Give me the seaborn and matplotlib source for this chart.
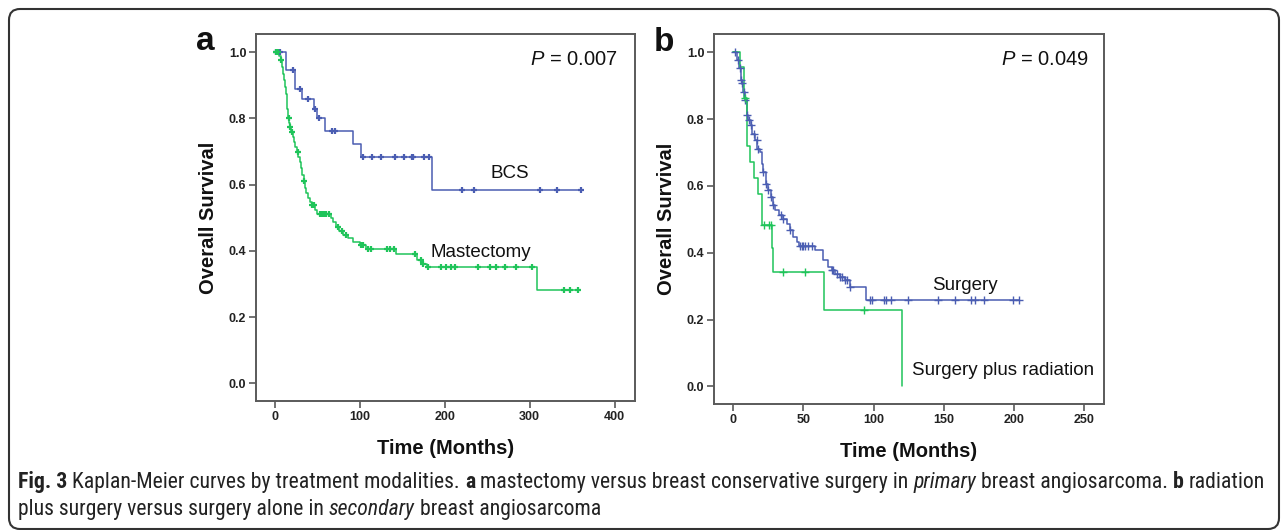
import numpy as np
import pandas as pd
import matplotlib
matplotlib.use("Agg")
import matplotlib.pyplot as plt
import seaborn as sns
from matplotlib.patches import FancyBboxPatch
from matplotlib import font_manager

# ---------------- data ----------------
# Panel a: primary breast angiosarcoma
bcs_t = [0, 13, 23.5, 32, 46, 50, 59, 92, 102, 185.5]
bcs_s = [1.0, 0.946, 0.89, 0.86, 0.83, 0.80, 0.763, 0.722, 0.684, 0.583]
bcs_c = [2, 6, 21.5, 29.5, 39, 48, 52, 67, 70.5, 104, 114, 125, 141, 152, 161, 163,
         176, 181, 221, 235, 312.5, 332.5, 360]

mast_t = [0, 5, 7, 9, 10, 11, 12, 13, 14, 15, 16, 17, 18, 19.5, 21, 22.5, 24, 26, 28,
          29.5, 31, 32.5, 34, 35.5, 37, 39, 41, 44, 47, 50, 66, 69, 72, 76, 80, 86, 92,
          100, 108, 143, 168, 175, 179, 308.6]
mast_s = [1.0, 0.99, 0.975, 0.955, 0.935, 0.915, 0.895, 0.875, 0.855, 0.83, 0.80, 0.785,
          0.775, 0.76, 0.745, 0.73, 0.715, 0.70, 0.685, 0.67, 0.65, 0.63, 0.61, 0.59,
          0.575, 0.56, 0.548, 0.538, 0.524, 0.512, 0.50, 0.487, 0.473, 0.46, 0.448,
          0.438, 0.428, 0.418, 0.405, 0.39, 0.372, 0.362, 0.352, 0.282]
mast_c = [2, 4, 8, 16.5, 18, 20, 27, 35, 44, 46, 53, 56, 58, 60, 64, 74, 79, 84, 102,
          104, 110, 113, 132, 136, 140, 165, 172, 175, 180, 196, 202, 208, 212, 239,
          253, 260, 271, 283.5, 303, 341, 347, 357]

# Panel b: secondary breast angiosarcoma
surg_t = [0, 2.8, 3.8, 5.5, 6.5, 7.1, 8.3, 9.5, 10.7, 12.3, 13.5, 15.4, 17.1, 19, 20.2,
          21.4, 23.3, 24.9, 26.6, 28, 29.7, 32.8, 35.6, 38, 40.4, 42.7, 45.1, 47, 58.2,
          63.8, 67.7, 70, 72.4, 76, 79.5, 83, 94.3]
surg_s = [1.0, 0.977, 0.952, 0.917, 0.907, 0.882, 0.857, 0.812, 0.797, 0.782, 0.757,
          0.737, 0.712, 0.702, 0.667, 0.642, 0.607, 0.587, 0.567, 0.542, 0.527, 0.512,
          0.502, 0.487, 0.467, 0.447, 0.432, 0.419, 0.409, 0.377, 0.357, 0.347, 0.337,
          0.327, 0.317, 0.297, 0.259]
surg_c = [1.2, 3.3, 4.5, 5.5, 6.5, 7.5, 8.5, 9.7, 11.5, 13, 14.8, 16.6, 17.8, 21.4, 23.3,
          24.9, 26.6, 28.5, 34, 35.6, 40.4, 47.5, 49, 50, 51, 53.5, 56, 70, 71, 73.6, 76,
          77.2, 79.5, 80.7, 83, 97.4, 98.5, 107.3, 108.5, 112.1, 124.2, 146, 157.9,
          169.1, 172.1, 178.8, 199.4, 203.5]

rad_t = [0, 4.7, 7.6, 9.5, 11.9, 15, 17.8, 20.7, 27.8, 28.5, 64.7, 120.4]
rad_s = [1.0, 0.955, 0.862, 0.719, 0.672, 0.625, 0.577, 0.482, 0.413, 0.342, 0.227, 0.0]
rad_c = [8.2, 21.8, 25.6, 26.8, 35.1, 51, 93]

xticks_a = [0, 100, 200, 300, 400]
xticks_b = [0, 50, 100, 150, 200, 250]
yticks = [0.0, 0.2, 0.4, 0.6, 0.8, 1.0]

BLUE = "#4a5db2"
GREEN = "#1fc45a"

# ---------------- style ----------------
sns.set_theme(style="white")
FONT = "Liberation Sans"
plt.rcParams["font.family"] = [FONT, "DejaVu Sans"]
plt.rcParams["mathtext.fontset"] = "custom"
plt.rcParams["mathtext.it"] = FONT + ":italic"
plt.rcParams["mathtext.rm"] = FONT

W, H = 1284, 530
fig = plt.figure(figsize=(W / 100, H / 100), dpi=100)
fig.patch.set_facecolor("white")


def ax_rect(l, t, r, b):
    return [l / W, (H - b) / H, (r - l) / W, (b - t) / H]


ax_a = fig.add_axes(ax_rect(256, 34, 635, 401))
ax_b = fig.add_axes(ax_rect(714, 34, 1104, 404))


def km_frame(times, surv, cens):
    t = list(times)
    s = list(surv)
    if cens and max(cens) > t[-1]:
        t.append(max(cens))
        s.append(s[-1])
    return pd.DataFrame({"t": t, "s": s})


def cens_frame(times, surv, cens):
    times = np.asarray(times, float)
    surv = np.asarray(surv, float)
    idx = np.searchsorted(times, np.asarray(cens, float), side="right") - 1
    return pd.DataFrame({"t": cens, "s": surv[idx]})


def draw_curve(ax, times, surv, cens, color, msize, mew):
    sns.lineplot(data=km_frame(times, surv, cens), x="t", y="s", ax=ax,
                 drawstyle="steps-post", estimator=None, sort=False,
                 color=color, linewidth=1.1)
    sns.scatterplot(data=cens_frame(times, surv, cens), x="t", y="s", ax=ax,
                    marker="+", s=msize, color=color, linewidth=mew, zorder=3)


draw_curve(ax_a, bcs_t, bcs_s, bcs_c, BLUE, 16, 1.6)
draw_curve(ax_a, mast_t, mast_s, mast_c, GREEN, 16, 1.6)
draw_curve(ax_b, surg_t, surg_s, surg_c, BLUE, 40, 1.0)
draw_curve(ax_b, rad_t, rad_s, rad_c, GREEN, 40, 1.0)


def style_axes(ax, xticks, xlim):
    ax.set_xlim(*xlim)
    ax.set_ylim(-0.053, 1.055)
    ax.set_xticks(xticks)
    ax.set_yticks(yticks)
    ax.set_yticklabels([f"{v:.1f}" for v in yticks])
    for sp in ax.spines.values():
        sp.set_visible(True)
        sp.set_color("#5a5a5a")
        sp.set_linewidth(1.4)
    ax.tick_params(axis="both", which="major", direction="out", length=5, width=1.2,
                   color="#5a5a5a", pad=2, labelsize=9, labelcolor="#222222",
                   bottom=True, left=True)
    for lab in ax.get_xticklabels() + ax.get_yticklabels():
        lab.set_fontweight("bold")
    ax.set_xlabel("Time (Months)", fontsize=14.5, fontweight="bold", labelpad=12,
                  color="#111111")
    ax.set_ylabel("Overall Survival", fontsize=14.5, fontweight="bold", labelpad=8,
                  color="#111111")
    ax.grid(False)
    ax.set_facecolor("white")


style_axes(ax_a, xticks_a, (-22, 424))
style_axes(ax_b, xticks_b, (-13.7, 264))

# annotations
ax_a.text(0.955, 0.93, "$P$ = 0.007", transform=ax_a.transAxes, ha="right", va="center",
          fontsize=14.5, color="#111111")
ax_b.text(0.96, 0.93, "$P$ = 0.049", transform=ax_b.transAxes, ha="right", va="center",
          fontsize=14.5, color="#111111")

ax_a.text(277, 0.634, "BCS", ha="center", va="center", fontsize=13.5, color="#111111")
ax_a.text(242, 0.396, "Mastectomy", ha="center", va="center", fontsize=13.5,
          color="#111111")
ax_b.text(165, 0.302, "Surgery", ha="center", va="center", fontsize=13.5, color="#111111")
ax_b.text(127, 0.047, "Surgery plus radiation", ha="left", va="center", fontsize=13.5,
          color="#111111")

fig.text(205 / W, (H - 50) / H, "a", ha="center", va="baseline", fontsize=24,
         fontweight="bold", color="#111111")
fig.text(664 / W, (H - 51) / H, "b", ha="center", va="baseline", fontsize=24,
         fontweight="bold", color="#111111")

# border
box = FancyBboxPatch((9, 1), 1270, 520, boxstyle="round,pad=0,rounding_size=11",
                     transform=None, facecolor="none", edgecolor="#333333",
                     linewidth=1.5)
fig.patches.append(box)

# caption font: prefer a condensed face
cap_family = [FONT, "DejaVu Sans"]
cap_stretch = "normal"
entries = font_manager.fontManager.ttflist
names = {f.name for f in entries}
for cand in ["Liberation Sans Narrow", "Roboto Condensed", "Open Sans Condensed",
             "DejaVu Sans Condensed", "Noto Sans Condensed"]:
    if cand in names:
        cap_family = [cand, "DejaVu Sans"]
        break
else:
    cond = [f for f in entries
            if str(f.stretch) in ("condensed", "semi-condensed", "extra-condensed")
            and f.name in ("DejaVu Sans", "Noto Sans", "Open Sans", "Roboto")]
    if cond:
        cap_family = [cond[0].name, "DejaVu Sans"]
        cap_stretch = str(cond[0].stretch)

line1 = [("Fig. 3", "bold", "normal"),
         ("Kaplan-Meier curves by treatment modalities.", "normal", "normal"),
         ("a", "bold", "normal"),
         ("mastectomy versus breast conservative surgery in", "normal", "normal"),
         ("primary", "normal", "italic"),
         ("breast angiosarcoma.", "normal", "normal"),
         ("b", "bold", "normal"),
         ("radiation", "normal", "normal")]
line2 = [("plus surgery versus surgery alone in", "normal", "normal"),
         ("secondary", "normal", "italic"),
         ("breast angiosarcoma", "normal", "normal")]

renderer = fig.canvas.get_renderer()


def mk(x, y, txt, size, wt="normal", st="normal", **kw):
    return fig.text(x, y, txt, fontsize=size, fontweight=wt, fontstyle=st,
                    family=cap_family, fontstretch=cap_stretch, **kw)


def measure(line, size):
    widths = []
    for txt, wt, st in line:
        t = mk(0, 0, txt, size, wt, st)
        widths.append(t.get_window_extent(renderer).width)
        t.remove()
    t = mk(0, 0, "a a", size)
    w_aa = t.get_window_extent(renderer).width
    t.remove()
    t = mk(0, 0, "aa", size)
    w_a2 = t.get_window_extent(renderer).width
    t.remove()
    return widths, w_aa - w_a2


base = 12.0
wds, sp = measure(line1, base)
total = sum(wds) + sp * (len(wds) - 1)
size = min(base * (1247 / total), 17)


def place(line, x0, ybase, size):
    wds, sp = measure(line, size)
    x = x0
    for (txt, wt, st), w in zip(line, wds):
        mk(x / W, (H - ybase) / H, txt, size, wt, st, color="#222222",
           ha="left", va="baseline")
        x += w + sp


place(line1, 18, 488, size)
place(line2, 18, 515, size)

fig.savefig("out.png", dpi=100, facecolor="white")
